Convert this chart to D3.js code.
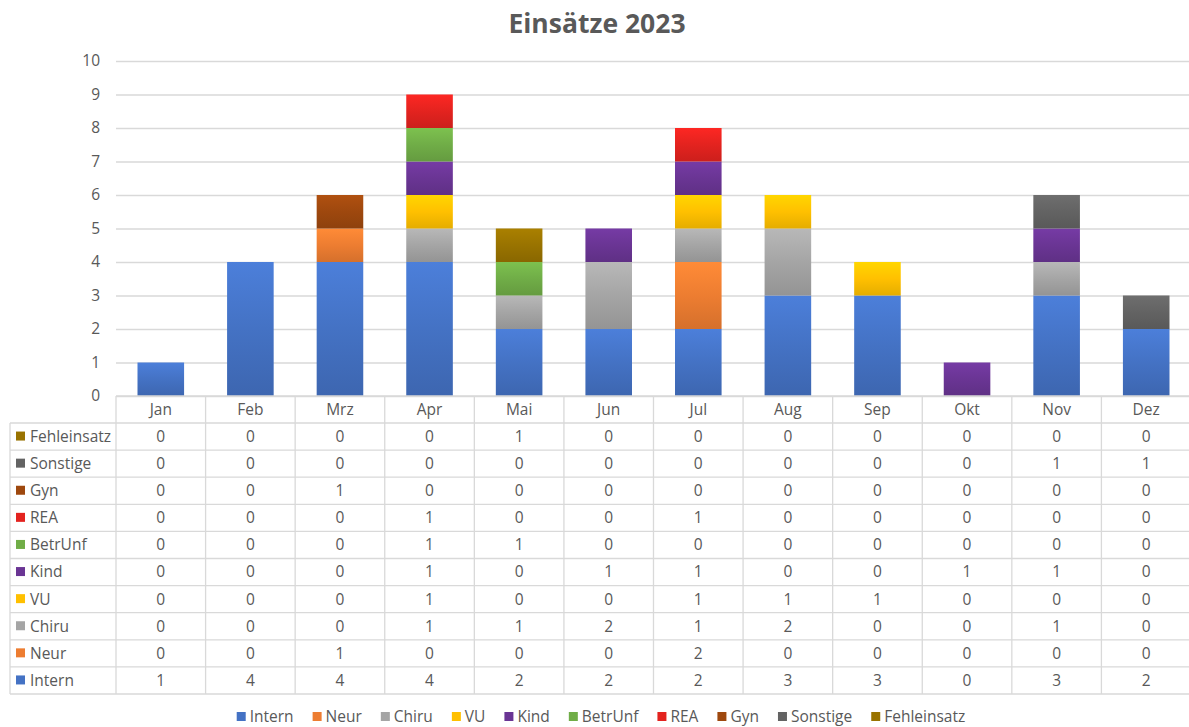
<!DOCTYPE html>
<html>
<head>
<meta charset="utf-8">
<script src="https://cdn.jsdelivr.net/npm/d3@7"></script>
<style>
  body { margin: 0; background: #fff; }
  svg text { font-family: 'Open Sans', 'Noto Sans', sans-serif; fill: #595959; }
</style>
</head>
<body>
<div id="chart"></div>
<script>
// Daten
const months = ['Jan', 'Feb', 'Mrz', 'Apr', 'Mai', 'Jun', 'Jul', 'Aug', 'Sep', 'Okt', 'Nov', 'Dez'];
const seriesNames = ['Intern', 'Neur', 'Chiru', 'VU', 'Kind', 'BetrUnf', 'REA', 'Gyn', 'Sonstige', 'Fehleinsatz'];
const seriesColors = ['#4472C4', '#ED7D31', '#A5A5A5', '#FFC000', '#6A3594', '#70AD47', '#E3231F', '#9E480E', '#636363', '#997300'];

const intern      = [1, 4, 4, 4, 2, 2, 2, 3, 3, 0, 3, 2];
const neur        = [0, 0, 1, 0, 0, 0, 2, 0, 0, 0, 0, 0];
const chiru       = [0, 0, 0, 1, 1, 2, 1, 2, 0, 0, 1, 0];
const vu          = [0, 0, 0, 1, 0, 0, 1, 1, 1, 0, 0, 0];
const kind        = [0, 0, 0, 1, 0, 1, 1, 0, 0, 1, 1, 0];
const betrUnf     = [0, 0, 0, 1, 1, 0, 0, 0, 0, 0, 0, 0];
const rea         = [0, 0, 0, 1, 0, 0, 1, 0, 0, 0, 0, 0];
const gyn         = [0, 0, 1, 0, 0, 0, 0, 0, 0, 0, 0, 0];
const sonstige    = [0, 0, 0, 0, 0, 0, 0, 0, 0, 0, 1, 1];
const fehleinsatz = [0, 0, 0, 0, 1, 0, 0, 0, 0, 0, 0, 0];
const seriesValues = [intern, neur, chiru, vu, kind, betrUnf, rea, gyn, sonstige, fehleinsatz];

const yTicks = [0, 1, 2, 3, 4, 5, 6, 7, 8, 9, 10];

// Layout
const W = 1189, H = 727;
const plotTop = 61, plotBottom = 396;
const plotLeft = 116, plotRight = 1191;
const tableLeft = 10, headerBottom = 423, tableBottom = 694;
const grid = '#D9D9D9';
const fs = '15.5px';

const rows = months.map((m, i) => {
  const r = { month: m };
  seriesNames.forEach((s, k) => { r[s] = seriesValues[k][i]; });
  return r;
});

const svg = d3.select('#chart').append('svg')
  .attr('width', W).attr('height', H);

const x = d3.scaleBand().domain(months).range([plotLeft, plotRight]).paddingInner(0.48).paddingOuter(0.24);
const band = (plotRight - plotLeft) / months.length;
const y = d3.scaleLinear().domain([0, 10]).range([plotBottom, plotTop]);
const color = d3.scaleOrdinal().domain(seriesNames).range(seriesColors);

// Verläufe je Serie
const defs = svg.append('defs');
seriesNames.forEach((s, k) => {
  const c = d3.color(seriesColors[k]);
  const g = defs.append('linearGradient')
    .attr('id', 'grad' + k).attr('x1', 0).attr('y1', 0).attr('x2', 0).attr('y2', 1);
  g.append('stop').attr('offset', '0%').attr('stop-color', c.brighter(0.3));
  g.append('stop').attr('offset', '50%').attr('stop-color', c);
  g.append('stop').attr('offset', '100%').attr('stop-color', c.darker(0.3));
});

// Titel
svg.append('text')
  .attr('x', 597).attr('y', 33)
  .attr('text-anchor', 'middle')
  .style('font-size', '26.5px').style('font-weight', 'bold')
  .text('Einsätze 2023');

// Gitterlinien + Y-Achse
const yAxis = d3.axisLeft(y).tickValues(yTicks).tickSize(-(plotRight - plotLeft)).tickPadding(16);
const yg = svg.append('g').attr('transform', `translate(${plotLeft},0)`).call(yAxis);
yg.select('.domain').remove();
yg.selectAll('.tick line').attr('stroke', grid).attr('stroke-width', 1.3);
yg.selectAll('.tick text').style('font-size', fs).attr('fill', '#595959');

// Balken
const stacked = d3.stack().keys(seriesNames)(rows);
svg.append('g').selectAll('g')
  .data(stacked)
  .join('g')
  .attr('fill', (d, k) => `url(#grad${k})`)
  .selectAll('rect')
  .data(d => d.filter(p => p[1] > p[0]))
  .join('rect')
  .attr('x', d => x(d.data.month))
  .attr('width', x.bandwidth())
  .attr('y', d => y(d[1]))
  .attr('height', d => y(d[0]) - y(d[1]));

// Datentabelle
const table = svg.append('g');
const rowOrder = seriesNames.slice().reverse();
const rowH = (tableBottom - headerBottom) / rowOrder.length;

// horizontale Linien
table.append('line')
  .attr('x1', plotLeft).attr('x2', plotRight).attr('y1', plotBottom).attr('y2', plotBottom)
  .attr('stroke', grid).attr('stroke-width', 1.3);
d3.range(rowOrder.length + 1).forEach(i => {
  table.append('line')
    .attr('x1', tableLeft).attr('x2', plotRight)
    .attr('y1', headerBottom + i * rowH).attr('y2', headerBottom + i * rowH)
    .attr('stroke', grid).attr('stroke-width', 1.3);
});
// vertikale Linien
table.append('line')
  .attr('x1', tableLeft).attr('x2', tableLeft).attr('y1', headerBottom).attr('y2', tableBottom)
  .attr('stroke', grid).attr('stroke-width', 1.3);
d3.range(months.length + 1).forEach(i => {
  const xx = plotLeft + i * band;
  table.append('line')
    .attr('x1', xx).attr('x2', xx).attr('y1', plotBottom).attr('y2', tableBottom)
    .attr('stroke', grid).attr('stroke-width', 1.3);
});

// Monatsköpfe
table.selectAll('.hdr')
  .data(months)
  .join('text')
  .attr('class', 'hdr')
  .attr('x', m => x(m) + x.bandwidth() / 2)
  .attr('y', (plotBottom + headerBottom) / 2)
  .attr('dy', '0.35em')
  .attr('text-anchor', 'middle')
  .style('font-size', fs)
  .text(m => m);

// Zeilen
const rowG = table.selectAll('.row')
  .data(rowOrder)
  .join('g')
  .attr('class', 'row')
  .attr('transform', (s, i) => `translate(0,${headerBottom + i * rowH + rowH / 2})`);

rowG.append('rect')
  .attr('x', 16).attr('y', -5).attr('width', 9).attr('height', 9)
  .attr('fill', s => color(s));
rowG.append('text')
  .attr('x', 30).attr('dy', '0.35em')
  .style('font-size', fs)
  .text(s => s);
rowG.selectAll('.val')
  .data(s => months.map((m, i) => ({ m, v: seriesValues[seriesNames.indexOf(s)][i] })))
  .join('text')
  .attr('class', 'val')
  .attr('x', d => x(d.m) + x.bandwidth() / 2)
  .attr('dy', '0.35em')
  .attr('text-anchor', 'middle')
  .style('font-size', fs)
  .text(d => d.v);

// Legende unten
const legend = svg.append('g').attr('transform', 'translate(0,717)');
let lx = 0;
const items = [];
const gap = 19;
seriesNames.forEach(s => {
  const it = legend.append('g');
  it.append('rect').attr('x', 0).attr('y', -5).attr('width', 9).attr('height', 9).attr('fill', color(s));
  const t = it.append('text').attr('x', 13).attr('dy', '0.35em').style('font-size', fs).text(s);
  const w = 13 + t.node().getComputedTextLength();
  items.push({ it, x: lx });
  lx += w + gap;
});
const total = lx - gap;
const start = 601 - total / 2;
items.forEach(d => d.it.attr('transform', `translate(${start + d.x},0)`));
</script>
</body>
</html>
